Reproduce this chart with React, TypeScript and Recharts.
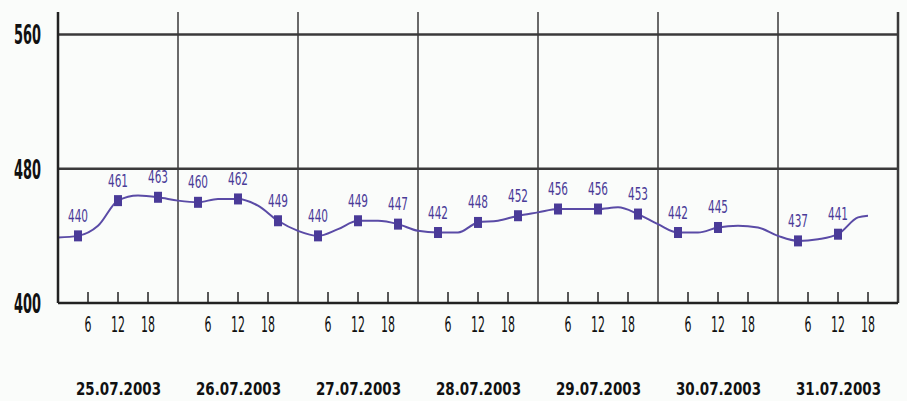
import { LineChart, Line, XAxis, YAxis, ReferenceLine } from "recharts";

// hours since 25.07.2003 00:00 and the curve value at each of them
const hours = [
  0, 4, 8, 12, 16, 20,
  24, 28, 32, 36, 40, 44,
  48, 52, 56, 60, 64, 68,
  72, 76, 80, 84, 88, 92,
  96, 100, 104, 108, 112, 116,
  120, 124, 128, 132, 136, 140,
  144, 148, 152, 156, 160, 162,
];
const values = [
  439, 440, 446, 461, 464, 463,
  461, 460, 462, 462, 458, 449,
  443, 440, 444, 449, 449, 447,
  443, 442, 442, 448, 449, 452,
  454, 456, 456, 456, 457, 453,
  447, 442, 442, 445, 446, 445,
  440, 437, 438, 441, 451, 452,
];
// readings shown with a square and a number
const markedHours = [
  4, 12, 20, 28, 36, 44, 52, 60, 68, 76, 84, 92,
  100, 108, 116, 124, 132, 148, 156,
];

const dates = [
  "25.07.2003",
  "26.07.2003",
  "27.07.2003",
  "28.07.2003",
  "29.07.2003",
  "30.07.2003",
  "31.07.2003",
];
const hourLabels = [6, 12, 18];
const yTicks = [400, 480, 560];

const data = hours.map((h, i) => ({
  h,
  v: values[i],
  mark: markedHours.includes(h),
}));

const xTicks = dates.flatMap((_, d) => hourLabels.map((l) => d * 24 + l));
const dayEdges = [0, ...dates.map((_, d) => (d + 1) * 24)];

const lineColor = "#5a4ba6";
const markColor = "#4a3b98";
const narrow = "'Liberation Sans Narrow', 'DejaVu Sans Condensed', 'Liberation Sans', sans-serif";

function PointMark(props: any) {
  const { cx, cy, payload, index } = props;
  if (!payload.mark) return <g key={index} />;
  const txt = String(payload.v);
  return (
    <g key={index}>
      <rect x={cx - 4} y={cy - 5.5} width={8} height={11} fill={markColor} />
      <text
        x={cx - 10}
        y={cy - 14}
        fontSize={18}
        fontFamily={narrow}
        fill={markColor}
        textLength={20}
        lengthAdjust="spacingAndGlyphs"
      >
        {txt}
      </text>
    </g>
  );
}

function HourTick(props: any) {
  const { x, y, payload } = props;
  const h = payload.value % 24;
  const day = Math.floor(payload.value / 24);
  const lbl = String(h);
  const w = lbl.length * 7;
  return (
    <g>
      <line x1={x} y1={y - 11} x2={x} y2={y} stroke="#222" strokeWidth={1.5} />
      <text
        x={x - w / 2}
        y={y + 29}
        fontSize={21}
        fontFamily={narrow}
        fill="#111"
        textLength={w}
        lengthAdjust="spacingAndGlyphs"
      >
        {lbl}
      </text>
      {h === 12 && (
        <text
          x={x - 42}
          y={y + 92}
          fontSize={18}
          fontWeight="bold"
          fontFamily={narrow}
          fill="#111"
          textLength={85}
          lengthAdjust="spacingAndGlyphs"
        >
          {dates[day]}
        </text>
      )}
    </g>
  );
}

function ValueTick(props: any) {
  const { y, payload } = props;
  return (
    <text
      x={14}
      y={y + 10}
      fontSize={27}
      fontWeight="bold"
      fontFamily={narrow}
      fill="#111"
      textLength={27}
      lengthAdjust="spacingAndGlyphs"
    >
      {payload.value}
    </text>
  );
}

export default function App() {
  return (
    <div style={{ position: "absolute", left: 0, top: 0, width: 907, height: 401, background: "#fafcfa" }}>
      <LineChart
        width={907}
        height={401}
        data={data}
        margin={{ top: 12, right: 9, left: 0, bottom: 0 }}
      >
        <XAxis
          dataKey="h"
          type="number"
          domain={[0, 168]}
          ticks={xTicks}
          interval={0}
          height={98}
          tickSize={0}
          tickMargin={0}
          tickLine={false}
          axisLine={{ stroke: "#222", strokeWidth: 2.5 }}
          tick={<HourTick />}
        />
        <YAxis
          type="number"
          domain={[400, 573.4]}
          ticks={yTicks}
          width={58}
          allowDataOverflow
          tickSize={0}
          tickMargin={0}
          tickLine={false}
          axisLine={{ stroke: "#222", strokeWidth: 2.5 }}
          tick={<ValueTick />}
        />
        {dayEdges.slice(1).map((x) => (
          <ReferenceLine
            key={x}
            x={x}
            stroke="#3a3a3a"
            strokeWidth={x === 168 ? 2.5 : 1.5}
          />
        ))}
        <ReferenceLine y={480} stroke="#3a3a3a" strokeWidth={2.5} />
        <ReferenceLine y={560} stroke="#3a3a3a" strokeWidth={2.5} />
        <Line
          type="monotone"
          dataKey="v"
          stroke={lineColor}
          strokeWidth={2}
          dot={PointMark}
          activeDot={false}
          isAnimationActive={false}
        />
      </LineChart>
    </div>
  );
}
